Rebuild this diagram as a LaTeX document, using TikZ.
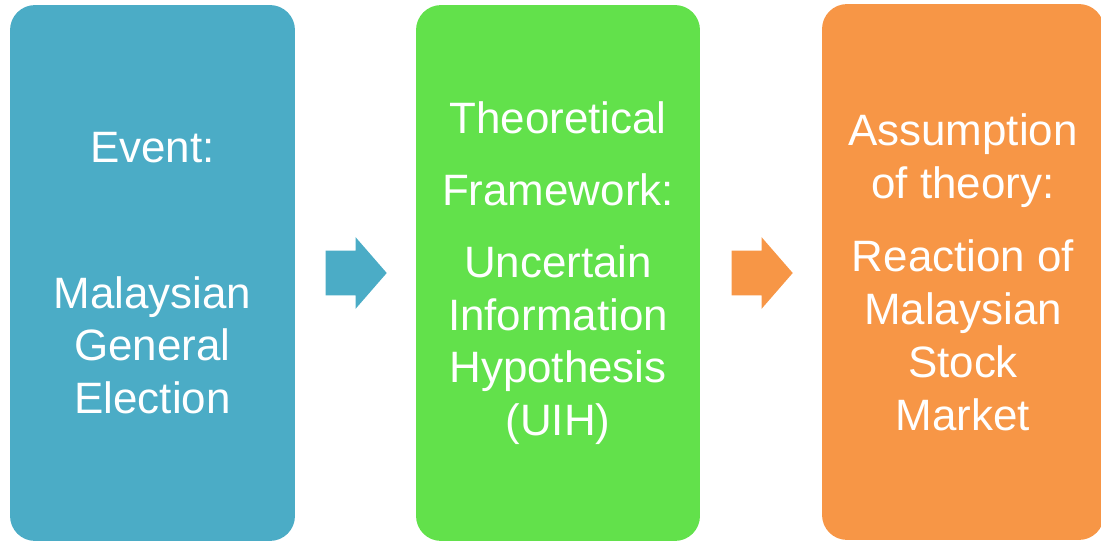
\documentclass[tikz,border=0pt]{standalone}
\usepackage{fontspec}
\setmainfont{Liberation Sans}
\usetikzlibrary{shapes.arrows}
\definecolor{evblue}{HTML}{4BACC6}
\definecolor{thgreen}{HTML}{62E14B}
\definecolor{asorange}{HTML}{F79646}
\tikzset{
  stagebox/.style={rounded corners=0.5cm, minimum width=5.7cm, minimum height=10.72cm,
    inner sep=0pt, align=center, text=white,
    font=\fontsize{25}{30}\selectfont},
  flowarrow/.style={single arrow, inner xsep=0pt, inner ysep=0.44cm, minimum height=1.22cm,
    single arrow head extend=0.27cm, single arrow tip angle=98}
}
\begin{document}
\begin{tikzpicture}[x=0.02cm,y=-0.02cm]
    \useasboundingbox (0,0) rectangle (1101,543);
    \node[stagebox, fill=evblue] (event) at (152.5,273)
          {Event:\\[53pt]Malaysian\\General\\Election};
    \node[stagebox, fill=thgreen, minimum width=5.68cm] (theory) at (558,273)
          {Theoretical\\[11pt]Framework:\\[11pt]Uncertain\\Information\\Hypothesis\\(UIH)};
    \node[stagebox, fill=asorange, minimum width=5.64cm] (assume) at (963,272)
          {Assumption\\of theory:\\[12pt]Reaction of\\Malaysian\\Stock\\Market};
    \node[flowarrow, fill=evblue] (arrowA) at (346.5,273) {};
    \node[flowarrow, fill=asorange] (arrowB) at (752.5,273) {};
\end{tikzpicture}
\end{document}
